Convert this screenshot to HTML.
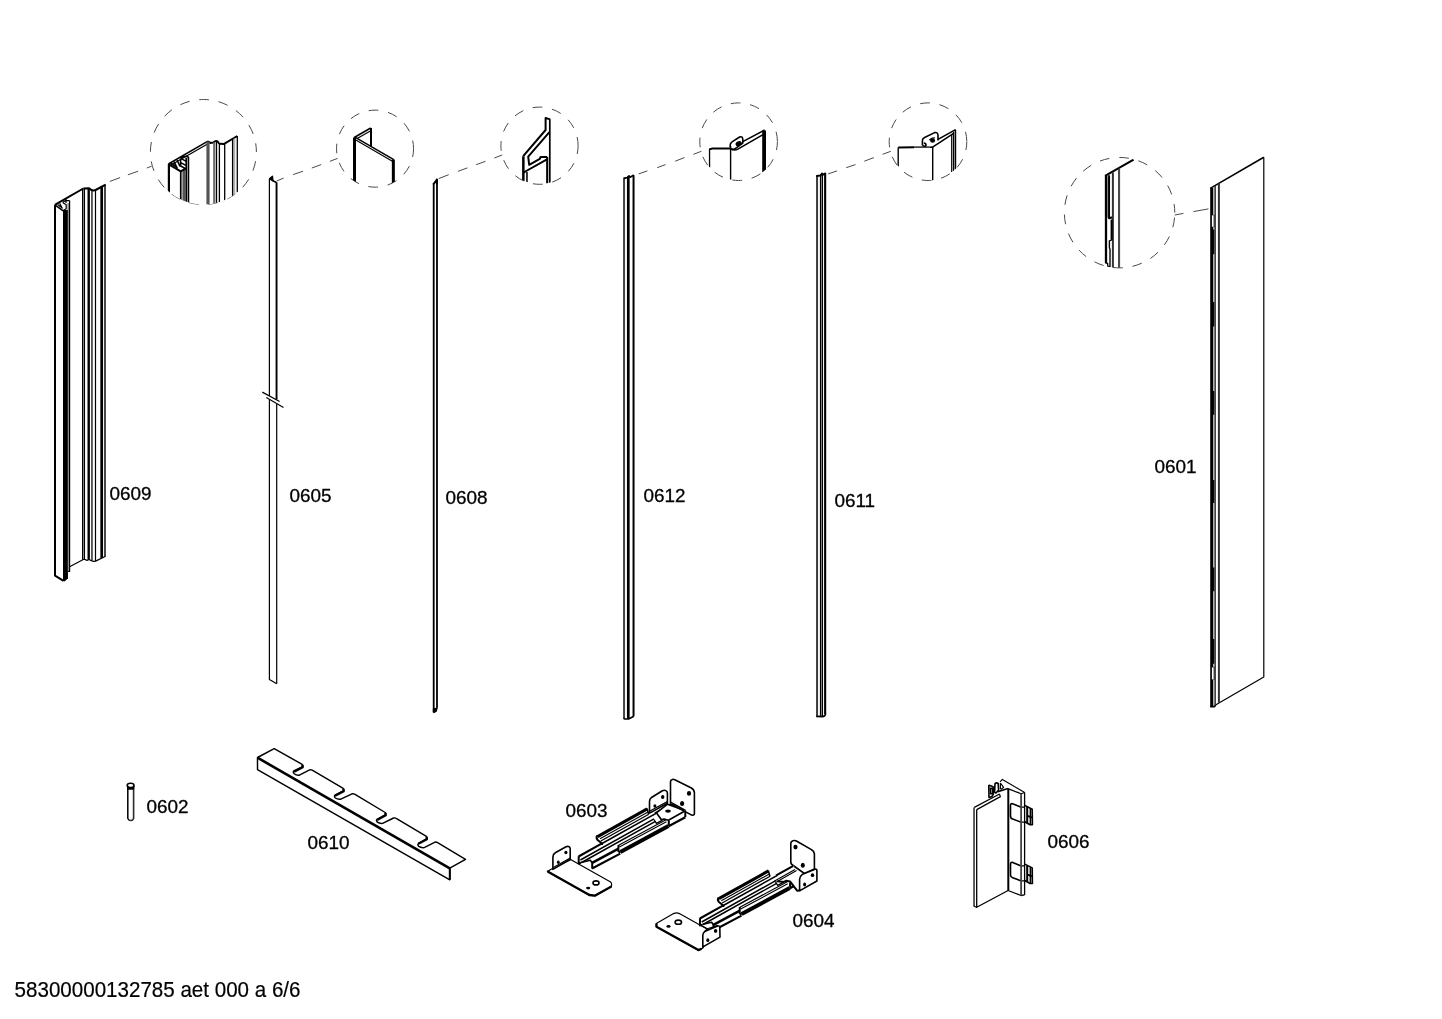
<!DOCTYPE html>
<html lang="de">
<head>
<meta charset="utf-8">
<title>58300000132785 aet 000 a 6/6</title>
<style>
html,body{margin:0;padding:0;background:#fff;overflow:hidden}
body{width:1442px;height:1019px;position:relative;font-family:"Liberation Sans",Arial,sans-serif;color:#000}
svg{position:absolute;left:0;top:0;display:block}
.lbl{position:absolute;margin:0.5px 0 0 -0.5px;font-size:18.9px;line-height:1;white-space:nowrap;transform:scaleY(1.02);transform-origin:0 16px;-webkit-text-stroke:0.3px #000}
#labels{position:absolute;left:0;top:0;width:1442px;height:1019px;will-change:transform}
#foot{position:absolute;left:14.6px;top:980.4px;font-size:20.57px;line-height:1;white-space:nowrap;transform:scaleY(1.075);transform-origin:0 17.4px;-webkit-text-stroke:0.2px #000}
.k{stroke:#000;fill:none;stroke-width:1.2;stroke-linejoin:round;stroke-linecap:butt}
.w{fill:#fff}
.t{stroke-width:2}
.h{stroke-width:1.6}
.g{stroke:#555}
.d{stroke:#4a4a4a;fill:none;stroke-width:1;stroke-dasharray:9.78 9.78}
.b{fill:#000;stroke:none}
</style>
</head>
<body>
<svg width="1442" height="1019" viewBox="0 0 1442 1019">
<defs>
<clipPath id="c1"><ellipse cx="203.4" cy="152" rx="53" ry="52.5"/></clipPath>
<clipPath id="c2"><circle cx="375.05" cy="148.65" r="38.5"/></clipPath>
<clipPath id="c3"><circle cx="539.5" cy="145.7" r="38.6"/></clipPath>
<clipPath id="c4"><circle cx="738.6" cy="141.7" r="38.8"/></clipPath>
<clipPath id="c5"><circle cx="928" cy="141.7" r="38.8"/></clipPath>
<clipPath id="c6"><circle cx="1119.57" cy="212.67" r="55.2"/></clipPath>
</defs>

<!-- ===== detail circles + leaders ===== -->
<g id="circles">
<ellipse class="d" cx="203.4" cy="152" rx="53" ry="52.5" style="stroke-dashoffset:10.3"/>
<circle class="d" cx="375.05" cy="148.65" r="38.5" style="stroke-dashoffset:1.36"/>
<circle class="d" cx="539.5" cy="145.7" r="38.6" style="stroke-dashoffset:1.36"/>
<circle class="d" cx="738.6" cy="141.7" r="38.8" style="stroke-dashoffset:1.36"/>
<circle class="d" cx="928" cy="141.7" r="38.8" style="stroke-dashoffset:1.36"/>
<circle class="d" cx="1119.57" cy="212.67" r="55.2" style="stroke-dashoffset:14.56"/>
<path class="d" style="stroke-dasharray:none" d="M109.9,181.4 L120.1,177.6 M127.9,174.8 L138.1,171.2 M146.8,168 L151.6,166.2"/>
<path class="d" style="stroke-dasharray:none" d="M276.6,181 L283.7,178.1 M293.1,174.6 L303,171.2 M311.8,168 L321.2,164.6 M329.9,161.3 L337.6,158.4"/>
<path class="d" style="stroke-dasharray:none" d="M438.7,178.6 L448.7,174.7 M458.1,171.3 L467.4,167.9 M476.2,164.7 L485.5,161.3 M494.3,158 L502.2,155"/>
<path class="d" style="stroke-dasharray:none" d="M638.7,173.9 L647.4,170.9 M657.2,167.7 L665.5,164.6 M675.2,161.2 L684.5,157.6 M693.4,154.3 L701.4,151.3"/>
<path class="d" style="stroke-dasharray:none" d="M828.1,173.9 L837.1,170.9 M846.2,167.7 L855.5,164.6 M864.3,161.2 L873.9,157.6 M882.6,154.3 L890.8,151.3"/>
<path class="d" style="stroke-dasharray:none" d="M1174.7,215 L1183.4,213.4 M1193.4,211.6 L1208.4,208.9"/>
</g>

<!-- ===== 0609 profile ===== -->
<g id="p0609">
<path style="stroke:none" class="k w" d="M54.8,204.9 L83.3,188.5 L89,188.2 L93.4,190.4 L95.6,190 L105,184.8 L105,556.4 L95.6,561.1 L89,559.5 L83.3,559.5 L69.5,566.7 L69.5,571.5 L67.6,571.5 L63.6,580.9 L54.8,575.5 Z"/>
<rect x="67.4" y="203" width="1.9" height="368.4" style="fill:#8c8c8c"/>
<rect x="82.6" y="189.4" width="1.6" height="370" style="fill:#9a9a9a"/>
<rect class="b" x="63" y="210" width="4.8" height="369"/>
<path class="b" d="M63,578 L67.8,572 L67.8,578.5 L64.6,581.4 L63,580.6 Z"/>
<path class="k" style="stroke-width:2" d="M55,204.9 L55,575.6 L63.6,580.9"/>
<path class="k" d="M69.6,200.5 L69.6,571.5 L67.3,571.5"/>
<path class="k" d="M69.6,566.7 L83.3,559.5"/>
<path class="k" style="stroke-width:1" d="M82.5,188.8 L82.5,559.6"/>
<path class="k" style="stroke-width:1.2" d="M84.45,188.6 L84.45,559.6"/>
<path class="k" style="stroke-width:2.4" d="M88.7,188.4 L88.7,559.5"/>
<path class="k" style="stroke:#444;stroke-width:1.7" d="M91.95,189.8 L91.95,560.6"/>
<path class="k" d="M95.5,190.2 L95.5,561"/>
<path class="k" style="stroke-width:2.7" d="M101.7,186.6 L101.7,558"/>
<path class="k" style="stroke:#333;stroke-width:1.8" d="M105,184.8 L105,556.4"/>
<path class="k t" d="M54.8,204.9 L83.3,188.5"/>
<path class="k t" d="M83.3,188.6 L89,188.3 Q91.2,190.6 93.4,190.4 L95.6,190 L105.6,184.6"/>
<path class="k" d="M82.9,559.5 L85,559.5 L86.9,560.4 L89,559.5 Q92,561.4 94,561.4 L95.6,561.1 L105.6,556.2"/>
<path class="k h" d="M54.8,204.9 L63.2,210.8"/>
<path style="stroke-width:1.2" class="k" d="M57.6,204.6 L61.6,207.6 M59.6,203.4 L62.4,208.6 M62.6,202.6 L66.2,204.8 L66.2,208.8 L63.2,210.6 M62.6,202.6 L65.6,200.6 L69.5,200.6 M66,199 L66,203"/>
</g>
<!-- circle 1 detail -->
<g id="d1" clip-path="url(#c1)">
<path class="w" style="stroke:none" d="M168.8,163.9 L208,141.3 L224,143.9 L237.3,136 L237.3,210 L168.8,210 Z"/>
<path class="k" style="stroke-width:2.2" d="M168.9,163.9 L168.9,210"/>
<path class="k" style="stroke-width:1.5" d="M168.4,164 L208,141.2"/>
<path class="k" style="stroke-width:1.2" d="M170.6,165.2 L208.4,143.4"/>
<path class="k t" d="M208,141.3 L210.3,142.9 L213.4,142.6 Q215.6,140.2 217.8,141.6 Q218.8,143.8 219.7,143.8 L224.1,143.9 L237.3,136"/>
<path class="k" style="stroke-width:1.3" d="M237.3,136 L237.3,192.5"/>
<path class="k" style="stroke:#b0b0b0;stroke-width:1.8" d="M234.3,138.6 L234.3,196"/>
<path class="k" style="stroke-width:1.3" d="M232.6,138.8 L232.6,198"/>
<path class="k" style="stroke-width:1.3" d="M224.7,144 L224.7,206"/>
<path class="k" style="stroke-width:1.3" d="M219.4,143.8 L219.4,206"/>
<path class="k" style="stroke-width:1.3" d="M216.5,141 L216.5,206"/>
<path class="k" style="stroke:#707070;stroke-width:2.2" d="M214.2,142.4 L214.2,206"/>
<path class="k" style="stroke:#555;stroke-width:3.2" d="M208,141.6 L208,206"/>
<path class="k" style="stroke-width:1.3" d="M188.6,157 L188.6,206"/>
<path class="k t" d="M186.4,158 L186.4,206"/>
<path class="k" style="stroke:#555;stroke-width:2.6" d="M184.3,168.4 L184.3,206"/>
<path class="k" style="stroke:#888;stroke-width:1.2" d="M182.2,171 L182.2,206"/>
<path class="k h" d="M180.7,171 L180.7,206"/>
<path class="k t" d="M168.8,164.4 L180.7,171.4 L186,168.4"/>
<path class="k h" d="M170.6,163 L176.4,167 M174,161.6 L177.4,168.6 M177,160 L180,166.4 M180.6,158.4 L186.4,161.4 M180.6,158.4 Q183.4,155.6 187.6,156.6 L188.6,157.6 M180.6,158.4 L180.6,166 L185.6,168.6 M180.2,162.4 L185.8,165.4"/>
</g>

<!-- ===== 0605 strip ===== -->
<g id="p0605">
<path class="k" d="M269.4,178.8 L269.4,396 M269.4,399.6 L269.4,679.5 L276.7,683.8"/>
<path class="k" style="stroke-width:1.9" d="M276.55,182.4 L276.55,399.6"/>
<path class="k" d="M276.7,404 L276.7,683.8"/>
<path class="k" d="M262.3,392.1 L279.6,401.5 M266.3,397.6 L283.5,407.6"/>
<path class="b" d="M269.2,178.8 L272.6,176 L273,180.2 L276.8,182.6 L276.4,183.2 L272.4,181.4 L269.6,179.6 Z"/>
<path class="k" d="M269.3,178.8 L272.5,176.2 L273,180.4 L276.7,182.6"/>
</g>
<!-- circle 2 detail -->
<g id="d2" clip-path="url(#c2)">
<path class="k" style="stroke-width:3" d="M354.5,137.4 L354.5,190"/>
<path class="k" style="stroke-width:1.5" d="M354.2,137.5 L370.7,128"/>
<path class="k" style="stroke-width:1.2" d="M357.2,138.4 L371.2,130.4"/>
<path class="k t" d="M371,127.9 L371,146.6"/>
<path class="k" style="stroke-width:1.5" d="M354.9,137.2 L393.8,159.6"/>
<path class="k" style="stroke-width:1.2" d="M355.4,139.8 L392.8,161.5"/>
<path class="k" style="stroke-width:3" d="M393.35,159.6 L393.35,190"/>
</g>
<!-- ===== 0608 strip ===== -->
<g id="p0608">
<path class="k" style="stroke-width:1.8" d="M433.7,183 L433.7,712.4"/>
<path class="k" style="stroke-width:1.8" d="M437,179 L437,707.8"/>
<path class="b" d="M432.8,183.4 L436.7,178.2 L437.9,179 L437.9,184.5 L436.3,184.5 L436.3,182.6 L434.4,184.6 L432.8,184.6 Z"/>
<path class="b" d="M432.8,708.6 L436.6,707.6 L437.9,707.4 L436.8,711.6 L434,713.2 L432.8,712 Z"/>
</g>
<!-- circle 3 detail -->
<g id="d3" clip-path="url(#c3)">
<path class="k" style="stroke-width:1.7" d="M549.8,119.3 L549.8,190"/>
<path class="k" style="stroke-width:2.1" d="M547.2,156.8 L547.2,190"/>
<path class="k" style="stroke-width:2.5" d="M523.35,156.2 L523.35,190"/>
<path class="k" style="stroke:#222;stroke-width:1.8" d="M526.95,172 L526.95,190"/>
<path class="k t" d="M550.2,119.4 L545.6,118 L545.6,130 L523.2,156.2"/>
<path class="k t" d="M549.4,132.2 L528.2,156.6 L529.2,164.8 L539.8,158.8 L540.6,156.9 L547,156.9"/>
<path class="k t" d="M523.6,172.6 L526.2,171 L547,159.4"/>
</g>
<!-- ===== 0612 strip ===== -->
<g id="p0612">
<path class="k" style="stroke:#444;stroke-width:2" d="M624.05,178.4 L624.05,718.4"/>
<path class="k" style="stroke-width:2.7" d="M628.3,176.6 L628.3,718.8"/>
<path class="k" style="stroke-width:2" d="M633.55,175.2 L633.55,716.2"/>
<path class="k h" d="M623.4,178.4 L627.2,177.6 L629,175.8 L630.2,177.2 L633.8,175"/>
<path class="k h" d="M623.4,718.3 L625,719 L628.6,719 L633.8,716.3"/>
</g>
<!-- circle 4 detail -->
<g id="d4" clip-path="url(#c4)">
<path class="k" style="stroke-width:1.3" d="M709.55,149 L709.55,167.6"/>
<path class="k t" style="stroke-linejoin:miter" d="M709.2,149.4 L712.4,148.5 L730.5,148.5"/>
<path class="k" style="stroke-width:1.4" d="M730.6,146 L730.6,190"/>
<path class="k" style="stroke-width:3.8" d="M764.1,130.4 L764.1,172.5"/>
<path class="k h" d="M730.4,147.6 Q729.4,143.4 732.4,141.6 L739.6,137 Q742.8,135.8 742.8,139.6 L742.8,143 L736.6,147.6 Q733,150.6 730.5,148.6"/>
<ellipse class="b" cx="738.6" cy="143.6" rx="3.2" ry="2.3" transform="rotate(-30 738.6 143.6)"/>
<path class="k h" d="M742.8,141.6 L764.6,130 M737,149.6 L763,134.6"/>
<path class="k h" d="M730.5,148.8 Q734,150.6 737,149.6"/>
</g>
<!-- ===== 0611 strip ===== -->
<g id="p0611">
<path class="k" style="stroke:#3a3a3a;stroke-width:2" d="M817.05,175.8 L817.05,716.4"/>
<rect x="820.6" y="174.6" width="1.8" height="542" style="fill:#999"/>
<path class="k" style="stroke-width:1.2" d="M820.5,174.4 L820.5,716.6"/>
<path class="k" style="stroke-width:1.1" d="M822.5,173.6 L822.5,716.4"/>
<path class="k" style="stroke-width:2.1" d="M825.15,173.2 L825.15,714"/>
<path class="k t" d="M816.2,175.9 L820.6,175.6 L822,173.6 L823.4,174.6 L825.8,173.2"/>
<path class="k h" d="M816.2,716.4 L822.8,716.6 Q825.4,716 825.6,713.6"/>
</g>
<!-- circle 5 detail -->
<g id="d5" clip-path="url(#c5)">
<path class="k" style="stroke-width:1.4" d="M898.2,147.4 L898.2,166.6"/>
<path class="k t" d="M898.2,147.5 L914,147.2"/>
<path style="stroke:#444;stroke-width:1.8" class="k" d="M914,147.2 L929.8,147.2"/>
<path class="k" style="stroke-width:1.4" d="M932.7,147 L932.7,190"/>
<path class="k" d="M951.7,134 L951.7,172"/>
<path class="k" d="M953.5,132 L953.5,171"/>
<path class="k h" d="M955.4,129.8 L955.4,169.6"/>
<path class="k h" d="M922.4,145.6 L922.4,140.6 Q922.4,138.4 924.6,137.4 L934.6,132.6 Q938,132 938,135.4 L938,140.6"/>
<path class="k h" d="M922.6,145.4 Q924.6,147.2 926,145.4 Q926,143 923.8,143"/>
<ellipse class="b" cx="932.6" cy="140.6" rx="2.5" ry="2.2"/>
<path class="k" d="M929.4,140 Q932,137.6 935,138"/>
<path class="k h" d="M938,139.4 L955.6,129.6 M932.6,147.2 L953.6,133.4"/>
<path class="k h" d="M929.8,147.3 L932.8,147.1"/>
</g>
<!-- ===== 0601 panel ===== -->
<g id="p0601">
<path class="k h" d="M1210.2,188.4 L1263.8,157.3"/>
<path class="k" d="M1263.8,157.3 L1263.8,677 L1215.1,705.3"/>
<path class="k" style="stroke-width:3.1" d="M1211.75,188 L1211.75,707"/>
<path class="k" style="stroke-width:1.5" d="M1214,214.8 L1214,227.2 M1214,666.8 L1214,679.8 M1213.8,229.5 L1213.8,254.2 M1213.8,301.9 L1213.8,326.6 M1213.8,390.9 L1213.8,414.8 M1213.8,480.1 L1213.8,503.1 M1213.8,567.4 L1213.8,591.2 M1213.8,638.9 L1213.8,663.7"/>
<path class="k" style="stroke:#444;stroke-width:1.7" d="M1215.15,186 L1215.15,705.4"/>
<path class="k" style="stroke:#333;stroke-width:2" d="M1218.9,183.4 L1218.9,702.8"/>
<path class="k h" d="M1210.2,706.6 L1214.6,706.6 L1215.6,705"/>
<rect style="fill:#fff" x="1211.9" y="215.3" width="1.7" height="11.5"/>
<rect style="fill:#fff" x="1211.9" y="667.4" width="1.7" height="12"/>
</g>
<!-- circle 6 detail -->
<g id="d6" clip-path="url(#c6)">
<rect x="1106.6" y="176.4" width="2" height="41.4" style="fill:#999"/>
<path class="k" style="stroke-width:2.3" d="M1106,175.6 L1106,263.2"/>
<path class="k" style="stroke-width:2.1" d="M1105.1,175.9 L1133.6,159.7"/>
<path class="k" style="stroke-width:2" d="M1109.05,175.2 L1109.05,218.2 L1112.6,217.2"/>
<path class="k" style="stroke:#333;stroke-width:2" d="M1112.9,172.6 L1112.9,268"/>
<path class="k" style="stroke:#4a4a4a;stroke-width:2.1" d="M1119.05,168.8 L1119.05,268"/>
<path class="k" style="stroke-width:2" d="M1111.6,219.4 L1111.6,239.8"/>
<path class="k" style="stroke-width:1.4" d="M1112.4,239.6 L1109.4,240.8 L1109.4,248 L1110,249 L1110,267"/>
<path class="k" style="stroke-width:1.4" d="M1105.6,262.8 L1107.6,263.4 L1107.8,266.4 L1110,266.6"/>
</g>

<!-- ===== 0602 pin ===== -->
<g id="p0602">
<path class="k" style="stroke-width:1.5" d="M127.8,786 L127.8,818.4 Q128.4,820.4 130.6,820.6"/>
<path class="k" style="stroke:#2a2a2a;stroke-width:1.6" d="M130.6,820.6 Q132.9,820.4 133.6,818.4 L133.6,786"/>
<ellipse class="k h" cx="130.6" cy="785.4" rx="3.4" ry="2.1"/>
<path class="b" d="M127,786.2 Q130.6,788.6 134.2,786.2 L134.2,789.2 Q130.6,790.2 127,789.2 Z"/>
</g>
<!-- ===== 0610 bracket ===== -->
<g id="p0610">
<path class="k w" style="stroke-width:1.45" d="M257.5,757.5 L274.2,748.7 L302.2,764.4 Q303.2,765.4 302.6,766.6 L293.8,771 Q292.6,772.4 294.2,773.8 Q296.4,775.6 299.4,775.2 L309.6,769.9 Q310.9,769.5 312.2,770.2 L343.2,788.4 Q344.2,789.4 343.6,790.6 L335,795.2 Q333.8,796.6 335.4,798 Q337.6,799.6 340.8,799.2 L352,793.8 Q353.4,793.4 354.6,794.2 L385.2,812.5 Q386.2,813.5 385.6,814.7 L377,819.4 Q375.8,820.8 377.4,822.2 Q379.6,823.8 382.6,823.4 L393.6,818 Q395,817.6 396.2,818.4 L426.4,836.4 Q427.4,837.4 426.8,838.6 L418.4,843.6 Q417.2,845 418.8,846.4 Q421,848 424.2,847.6 L435,842.2 Q436.4,841.8 437.6,842.6 L465.5,859.3 L449.8,868.1 L449.8,879.8 L257.5,769.7 Z"/>
<path class="k" style="stroke-width:2.6" d="M257.5,757.7 L449.8,868.3"/>
<path class="k" style="stroke-width:2.3" d="M302.4,764.8 l0.3,2.4 l-8.6,4.6 M343.4,788.8 l0.3,2.4 l-8.6,4.6 M385.4,812.9 l0.3,2.4 l-8.6,4.6 M426.6,836.8 l0.3,2.4 l-8.6,4.6"/>
<path class="k t" d="M449.8,868.1 L449.8,879.8"/>
</g>
<!-- ===== 0606 ===== -->
<g id="p0606">
<path class="w" style="stroke:none" d="M1000,781.8 L1002.4,779.4 L1024.6,792.5 L1024.6,894.9 L1021,895.5 L1008.1,890.5 L977,907.5 L974.2,906.4 L974.2,807.4 L999.6,794 L997.6,791.6 L1000.4,789.8 L998.6,786.6 Z"/>
<path class="k" d="M1000,781.8 L1002.4,779.4 L1024.6,792.5"/>
<path class="k" style="stroke:#555;stroke-width:1.9" d="M974.05,807.6 L974.05,906"/>
<path class="k" d="M973.6,906 L977,907.5"/>
<path class="k" d="M974.3,807.4 L999.6,794"/>
<path class="k" style="stroke-width:1.3" d="M976.7,809.4 L976.7,907.2 L1008.1,890.5 L1021,895.5 L1024.6,894.9"/>
<path class="k" d="M976.7,809.6 L1000.4,796.6 L999.4,794"/>
<path class="k" style="stroke-width:2" d="M1008.3,788.8 L1008.3,890.5"/>
<path class="k h" d="M997.8,791.8 L1008,788.6"/>
<path class="k" d="M1008,788.6 L1021.2,793.8 L1024.6,792.5"/>
<path class="k" d="M1000.4,783 L1003.6,787.4 L1000.6,789.6 M1000.4,783 L1000.4,789"/>
<path class="k h w" d="M988.8,786 Q988.6,785 989.8,785.4 L992.6,786.4 Q993.4,786.8 993.4,787.8 L993.4,794 L992,796.4 L989,797.4 Z"/>
<path class="k h w" d="M990.4,788.2 L992.6,788.4 L992.6,793.6 L990.6,793.8 Z"/>
<path class="k h w" d="M995,783.6 Q996.6,782.2 998.2,783.6 L998.6,790 L996,793 L994.6,792 Z"/>
<g id="clipA">
<path class="k h w" d="M1021.2,807.2 L1012.6,803.7 Q1010.5,803.2 1010.5,805.6 L1010.5,816.4 Q1010.6,818.4 1012.6,819 L1021.2,822.2"/>
<path class="k" d="M1021.2,807.2 L1024.6,807.2 M1021.2,822.2 L1024.6,822.2"/>
<path class="k h w" d="M1024.8,805.4 L1032.2,809.2 L1032.4,824.8 L1030,824.8 L1024.8,821.8"/>
<path class="k t" d="M1027.2,807 L1027.2,823 M1027.2,815.6 L1032,817.6"/>
<path class="k h" d="M1030.4,808.6 L1030.4,824.6"/>
</g>
<use href="#clipA" transform="translate(0,58.7)"/>
<path class="k" style="stroke:#444;stroke-width:1.8" d="M1021.1,793.8 L1021.1,895.4"/>
<path class="k" style="stroke-width:1.3" d="M1024.6,792.5 L1024.6,894.9"/>
</g>

<!-- ===== rail (shared by 0603 / 0604) ===== -->
<defs>
<g id="rail">
<path class="w" style="stroke:none" d="M578.6,856.4 L601.5,843.5 L597,838 L597.2,836 L646.9,808.2 L656,812.5 L672,803.6 L686,814 L686,817 L592.1,869 L590,861 L578.6,863.6 Z"/>
<path class="k" style="stroke-width:2.1" d="M578.6,856.5 L602,843.4 M651.3,815.4 L672,803.8"/>
<path class="k" style="stroke-width:1.5" d="M580.4,860 L654,818.9 M581.6,862.5 L655.4,821.3"/>
<path class="k t" d="M578.7,856.2 L578.7,863.4 L581,862.8"/>
<path class="k h" d="M581,862.6 L590.3,860.2 L592.1,862.7"/>
<!-- upper slide -->
<path class="w" style="stroke:none" d="M597.2,836 L646.9,808.2 L656,813.4 L602,843.6 Z"/>
<path class="k" style="stroke-width:3.1" d="M597.6,836.6 L647.2,808.9"/>
<path class="k" style="stroke-width:1.1" d="M600,838.8 L647.6,812.2"/>
<path class="k" style="stroke-width:1.3" d="M600.8,841 L648.8,814.2"/>
<path class="k h" d="M602,843.5 L656,813.4"/>
<path class="k t" d="M597.2,835.6 Q595.8,838 597.6,840 L602,843.5 L602,845"/>
<path class="k h" d="M647,808.4 L648.6,814.2"/>
<!-- lower-left bar -->
<path class="k" style="stroke-width:2.5" d="M592.1,862.9 L618.6,848.6"/>
<path class="k t" d="M592.2,862.4 L592.2,868.6"/>
<path class="k" style="stroke-width:2.1" d="M592.1,868.5 L620.2,853.6"/>
<!-- dark section -->
<path class="w" style="stroke:none" d="M618.6,845.2 L666,820.1 L668.4,824.4 L620.2,851.6 Z"/>
<path class="k" style="stroke-width:1.2" d="M618.6,845.2 L666,819.8"/>
<path class="k" style="stroke-width:1.1" d="M619.4,847 L666.4,821.8"/>
<path class="k" style="stroke-width:4" d="M620.4,851.9 L668.4,826.1"/>
<path class="k t" d="M618.5,845 L618.3,851 L620.4,852.8"/>
<path class="k" style="stroke-width:1.2" d="M654,819.6 L656.4,823.4 L662,820.4 L659.6,816.6"/>
<!-- right end piece -->
<path class="k" style="stroke-width:2.3" d="M668.6,826.2 L685.3,817.2"/>
<path class="k t" d="M685.3,811 L685.3,816.9 M668.8,820.4 L668.8,825.6"/>
</g>
</defs>
<!-- ===== 0603 ===== -->
<g id="p0603">
<!-- base plate -->
<path class="k w" d="M547.9,871.4 L550.6,869.5 L570.6,859.6 L610.6,882 Q611.8,883 611.6,884.6 L611.4,886.6 L595.2,895.8 L589.4,895.2 Z"/>
<path class="k" style="stroke-width:2.3" d="M548,870.4 L548,871.8 L589.4,895 L595.2,895.6 L611.4,886.4"/>
<ellipse class="k h" cx="596" cy="882.9" rx="3" ry="2"/>
<ellipse class="b" cx="588.2" cy="888.1" rx="2.1" ry="1.3"/>
<!-- left tab -->
<path class="k h w" d="M552.9,869.4 L552.9,857 Q553,854 555.3,852.7 L566,846.8 Q568,846 569.2,846.8 Q570.2,847.4 570.2,849 L570.2,859.3 Z"/>
<path class="k" d="M553.4,867.6 L570.2,858"/>
<ellipse class="b" cx="565.9" cy="852.5" rx="1.6" ry="1.8"/>
<ellipse class="b" cx="558.3" cy="862.3" rx="1.4" ry="1.8"/>
<use href="#rail"/>
<!-- right bracket: floor -->
<path class="k h w" d="M656.4,812.8 L667.6,804.2 L685.3,810.8 L668.4,820.2 L664,819 L661.4,819.8 Z"/>
<ellipse class="b" cx="668" cy="811.1" rx="2.9" ry="1.6"/>
<!-- small plate -->
<path class="k h w" d="M649.5,813 L649.5,801.4 Q649.6,798.8 651.5,797.5 L662.4,790.8 Q664.2,789.8 665.8,790.6 Q667.4,791.4 667.4,793 L667.4,803.3 L650.6,812.6 Z"/>
<path class="k" d="M650,811 L667.4,801.6"/>
<ellipse class="b" cx="662.7" cy="797" rx="1.7" ry="2"/>
<ellipse class="b" cx="654.9" cy="806" rx="1.5" ry="1.8"/>
<!-- big plate -->
<path class="k h w" d="M670.5,803.8 L670.5,781.6 Q670.6,780 672.4,779.4 Q673.6,779 674.8,779.8 L691.4,788 Q694.2,789.6 694.4,792.6 L694.4,813.6 Q694.2,815.4 692.4,815.2 Q691.6,815.2 690.8,814.6 Z"/>
<path class="k" d="M670.6,802 L686,810.6 M672.6,803.4 L684.6,810.2"/>
<ellipse class="b" cx="689" cy="793.4" rx="2.1" ry="2.3"/>
<ellipse class="b" cx="682.1" cy="803.6" rx="2.1" ry="2.5"/>
</g>
<!-- ===== 0604 ===== -->
<g id="p0604">
<!-- base plate -->
<path class="k w" d="M656.3,923.5 L673.6,913.6 Q676.6,912.2 679.4,913.6 L707,929 L702.8,948 L698.4,950.3 L656.3,926.8 Z"/>
<path class="k" style="stroke-width:2.3" d="M656.5,923.4 L656.5,926.8 L698.4,950.1 L701.6,948.8"/>
<ellipse class="k h" cx="678.3" cy="922.2" rx="3.2" ry="2.1"/>
<ellipse class="b" cx="668.5" cy="926.4" rx="2.1" ry="1.3"/>
<!-- big plate (behind rail) -->
<path class="k h w" d="M790.8,862.2 L790.8,843.4 Q790.8,841.8 792.4,841 L793.8,840.6 Q795,840.2 796.4,841 L811,849.4 Q814.2,851.2 814.4,854 L814.4,869.1 L804.6,873.6 L794,866 Q790.8,864.4 790.8,862.2 Z"/>
<ellipse class="b" cx="795.5" cy="847.1" rx="2.1" ry="2.4"/>
<ellipse class="b" cx="802.8" cy="865.3" rx="2" ry="2.5"/>
<use href="#rail" transform="translate(121.3,62)"/>
<!-- floor/connector -->
<path class="w" style="stroke:none" d="M777.5,880.5 L795,869.6 L803,874 L799.6,879 L800.2,890.4 L797.1,890.7 L790.2,881.6 L783.8,881.8 Z"/>
<path class="k" style="stroke-width:1.1" d="M774.6,880.9 L795,869.4 M776.4,882 L796.6,870.6"/>
<path class="k t" d="M777.2,881.2 L783.8,881.9 L786,880.8 L790.2,881.6 L797.1,890.7 L800.4,890.4"/>
<path class="k" d="M794,866.4 L804,873.6"/>
<!-- small front plate -->
<path class="k h w" d="M799.6,890 L799.6,879.2 Q799.8,876.4 802.6,874.2 L815,869.2 Q816.9,868.8 816.9,870.6 L816.9,881 L800.4,890.4 Z"/>
<ellipse class="b" cx="812.5" cy="875.2" rx="1.7" ry="1.9"/>
<ellipse class="b" cx="804.6" cy="884.5" rx="1.5" ry="1.9"/>
<!-- front tab -->
<path class="k h w" d="M702.8,947.4 L702.8,935.2 Q703,932.6 705.2,931.3 L717.6,926 Q719.6,925.6 719.8,927.4 L720,937.1 L703.4,946.6 Z"/>
<path class="k" d="M704.4,931.6 L707.4,928.8 L700.4,925 M707.4,928.8 L718,925.4"/>
<ellipse class="b" cx="715.6" cy="930.9" rx="1.7" ry="1.9"/>
<ellipse class="b" cx="707.8" cy="940.2" rx="1.5" ry="1.9"/>
</g>

<!--PARTS-->
</svg>

<div id="labels">
<div class="lbl" style="left:110px;top:484px">0609</div>
<div class="lbl" style="left:290px;top:486px">0605</div>
<div class="lbl" style="left:446px;top:488px">0608</div>
<div class="lbl" style="left:644px;top:486px">0612</div>
<div class="lbl" style="left:835px;top:491px">0611</div>
<div class="lbl" style="left:1155px;top:456px;transform:translateY(0.7px) scaleY(1.02)">0601</div>
<div class="lbl" style="left:147px;top:797px">0602</div>
<div class="lbl" style="left:308px;top:833px">0610</div>
<div class="lbl" style="left:566px;top:801px">0603</div>
<div class="lbl" style="left:793px;top:911px">0604</div>
<div class="lbl" style="left:1048px;top:831px;transform:translateY(0.7px) scaleY(1.02)">0606</div>
<div id="foot">58300000132785 aet 000 a 6/6</div>
</div>
</body>
</html>
